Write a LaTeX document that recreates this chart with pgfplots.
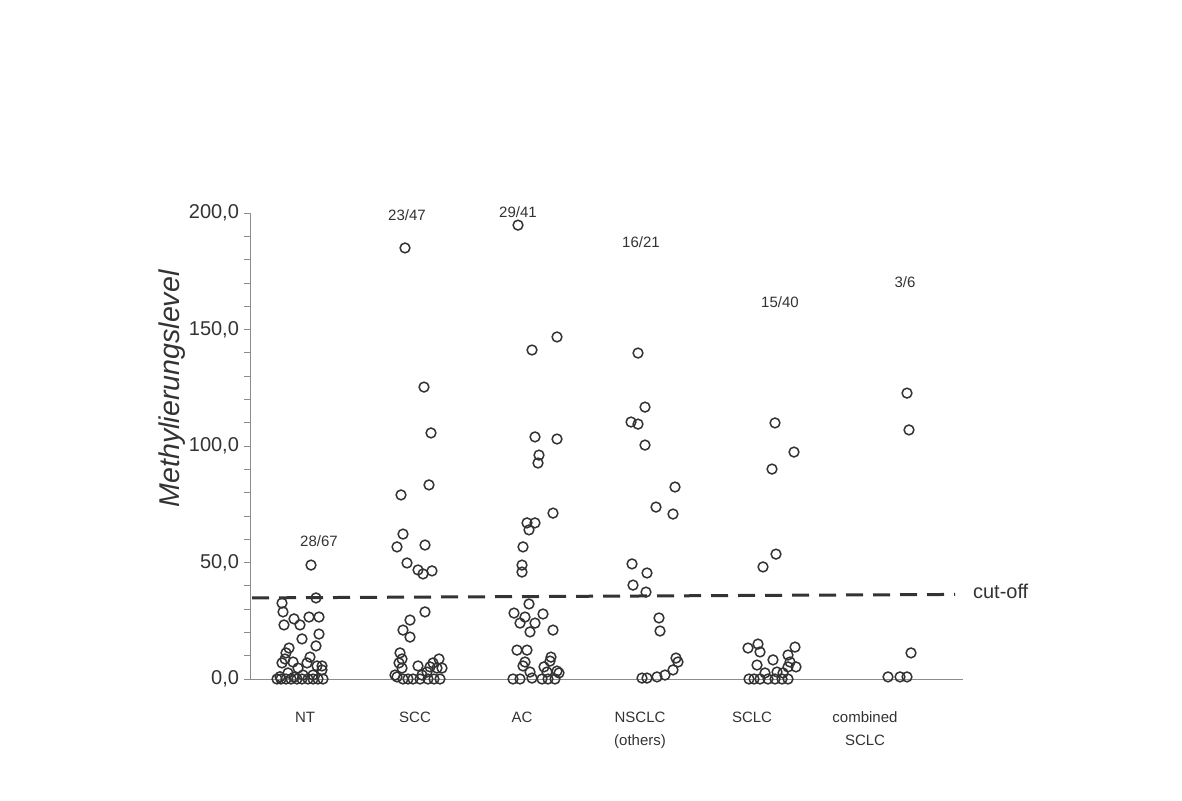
\documentclass[border=0pt]{standalone}
\usepackage{pgfplots}
\pgfplotsset{compat=1.18}
\usepackage{fontspec}
\setmainfont{Liberation Sans}
\definecolor{ink}{HTML}{333333}
\definecolor{axisgray}{HTML}{8C8C8C}
\begin{document}
\begin{tikzpicture}
\path[fill=white, use as bounding box] (0,0) rectangle (591pt,400pt);
\begin{axis}[
  at={(125pt,60.5pt)}, anchor=south west,
  scale only axis, width=356.5pt, height=233pt,
  xmin=250, xmax=963, ymin=0, ymax=200,
  clip=false,
  axis x line=bottom, axis y line=left,
  axis line style={-, draw=axisgray, line width=0.5pt},
  xtick={305,415,522,640,752,865},
  xticklabels={NT, SCC, AC, {NSCLC\\(others)}, SCLC, {combined\\SCLC}},
  xticklabel style={align=center, font=\fontsize{7.5}{11.5}\selectfont, text=ink, yshift=-10pt},
  major x tick style={draw=none},
  ytick={0,50,100,150,200},
  minor y tick num=4,
  tick align=outside,
  major tick length=3pt, minor tick length=3pt,
  y tick style={draw=axisgray, line width=0.4pt},
  yticklabel style={font=\fontsize{10}{12}\selectfont, text=ink, xshift=1pt,
    /pgf/number format/.cd, fixed, fixed zerofill, precision=1, use comma, assume math mode=true},
  scaled y ticks=false,
  pt/.style={only marks, mark=o, mark size=2.45pt,
    mark options={draw=ink, line width=0.75pt, fill=none, solid}},
]
% NT
\addplot[pt] coordinates {
(311,48.9) (316,34.8) (282,32.6) (283,28.8) (284,23.2) (294,25.8) (300,23.2)
(309,26.6) (319,26.6) (302,17.2) (319,19.3) (316,14.2) (289,13.3) (286,11.2)
(285,8.6) (282,6.9) (293,7.3) (310,9.4) (307,6.9) (317,5.6) (322,5.6)
(288,2.6) (298,4.7) (303,1.7) (313,1.7) (322,3.9) (280,1.0) (294,0.8)
(277,0) (281,0) (286,0) (291,0) (297,0) (302,0) (308,0) (313,0) (318,0) (323,0)
};
% SCC
\addplot[pt] coordinates {
(405,185) (424,125.3) (431,105.6) (429,83.3) (401,79) (403,62.2) (397,56.7)
(425,57.5) (407,49.8) (418,46.8) (423,45.1) (432,46.4) (425,28.8) (410,25.3)
(403,21) (410,18) (400,11.2) (402,8.6) (399,6.9) (402,4.7) (395,1.7) (397,0.9)
(418,5.6) (430,5.2) (433,6.9) (439,8.6) (437,4.7) (442,4.7) (427,3) (422,1.7)
(403,0) (408,0) (413,0) (420,0) (428,0) (434,0) (440,0)
};
% AC
\addplot[pt] coordinates {
(518,194.8) (557,146.8) (532,141.2) (535,103.9) (557,103) (539,96.1) (538,92.7)
(553,71.2) (527,67) (535,67) (529,64) (523,56.7) (522,48.9) (522,45.9)
(529,32.2) (514,28.3) (525,26.6) (520,24) (535,24) (543,27.9) (530,20.2) (553,21)
(517,12.4) (527,12.4) (525,7.3) (523,5.6) (551,9.4) (550,7.7) (544,5.2) (547,3)
(557,3.4) (559,2.6) (530,3) (532,0.4)
(513,0) (520,0) (542,0) (548,0) (555,0)
};
% NSCLC (others)
\addplot[pt] coordinates {
(638,139.9) (645,116.7) (631,110.3) (638,109.4) (645,100.4) (675,82.4)
(656,73.8) (673,70.8) (632,49.4) (647,45.5) (633,40.3) (646,37.3) (659,26.2)
(660,20.6) (676,9) (678,7.3) (673,3.9) (665,1.7) (657,0.9) (642,0.4) (647,0.4)
};
% SCLC
\addplot[pt] coordinates {
(775,109.9) (794,97.4) (772,90.1) (776,53.6) (763,48.1) (748,13.3) (758,15)
(760,11.6) (757,6) (773,8.2) (795,13.7) (788,10.3) (790,7.3) (788,5.2) (796,5.2)
(765,2.6) (777,3) (783,2.6)
(749,0) (754,0) (760,0) (768,0) (775,0) (782,0) (788,0)
};
% combined SCLC
\addplot[pt] coordinates {
(907,122.7) (909,106.9) (911,11.2) (888,0.9) (900,0.9) (907,0.9)
};
% cut-off line
\addplot[draw=ink, line width=1.5pt, dash pattern=on 8.5pt off 5pt, mark=none]
  coordinates {(252,34.8) (955,36.3)};
\node[anchor=west, text=ink, font=\fontsize{10}{12}\selectfont] at (axis cs:966,37.8) {cut-off};
% fractions above the groups
\begin{scope}[every node/.style={text=ink, font=\fontsize{7.5}{9}\selectfont}]
\node at (axis cs:319,59.2) {28/67};
\node at (axis cs:407,199.1) {23/47};
\node at (axis cs:518,200.4) {29/41};
\node at (axis cs:641,187.6) {16/21};
\node at (axis cs:780,161.6) {15/40};
\node at (axis cs:905,170.4) {3/6};
\end{scope}
\node[rotate=90, text=ink, font=\itshape\fontsize{14.3}{16}\selectfont] at (axis cs:172,124.5) {Methylierungslevel};
\end{axis}
\end{tikzpicture}
\end{document}
